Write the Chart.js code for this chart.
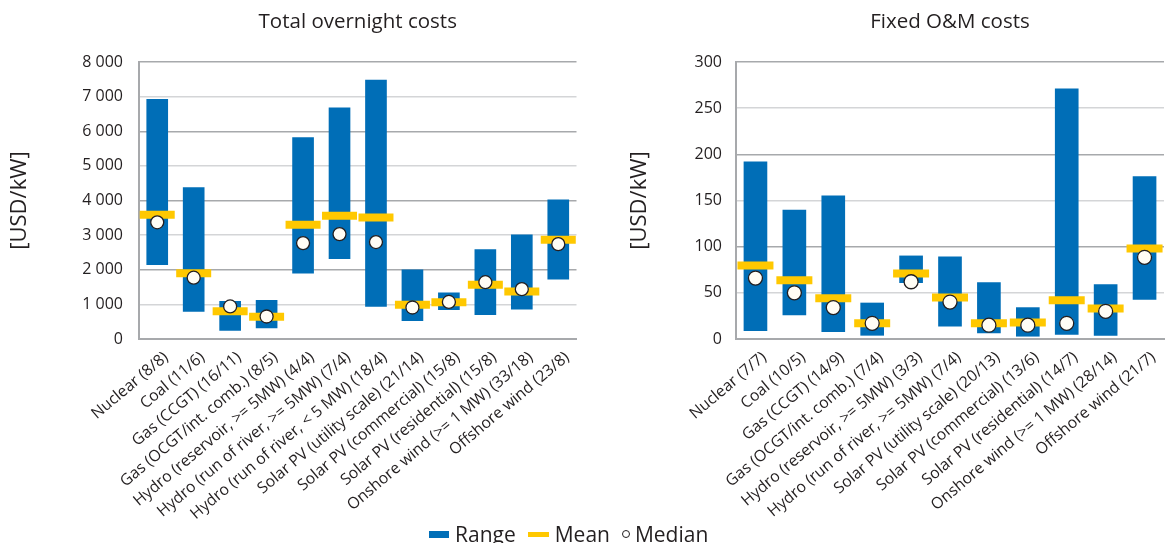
<!DOCTYPE html>
<html>
<head>
<meta charset="utf-8">
<script src="https://cdn.jsdelivr.net/npm/chart.js@4"></script>
<style>
  body { margin: 0; background: #fff; font-family: "Open Sans", sans-serif; color: #231f20; }
  #wrap { position: relative; width: 1172px; height: 543px; overflow: hidden; }
  #left { position: absolute; left: 0; top: 0; }
  #right { position: absolute; left: 600px; top: 0; }
  #legend { position: absolute; left: 429px; top: 520px; font-size: 21px; line-height: 25px; white-space: nowrap; }
  #legend span { display: inline-block; vertical-align: middle; }
  .sw-range { width: 20px; height: 7px; background: #006eb7; margin-right: 6px; }
  .sw-mean { width: 21px; height: 5px; background: #ffc800; margin: 0 6px 0 12px; }
  .sw-median { width: 6px; height: 6px; border: 1px solid #231f20; border-radius: 50%; margin: 0 5px 0 12px; }
</style>
</head>
<body>
<div id="wrap">
  <canvas id="left" width="602" height="543"></canvas>
  <canvas id="right" width="590" height="543"></canvas>
  <div id="legend"><span class="sw-range"></span><span>Range</span><span class="sw-mean"></span><span>Mean</span><span class="sw-median"></span><span>Median</span></div>
</div>
<script>
// Total overnight costs [USD/kW]
const capexCategories = [
  "Nuclear (8/8)", "Coal (11/6)", "Gas (CCGT) (16/11)", "Gas (OCGT/int. comb.) (8/5)",
  "Hydro (reservoir, >= 5MW) (4/4)", "Hydro (run of river, >= 5MW) (7/4)",
  "Hydro (run of river, < 5 MW) (18/4)", "Solar PV (utility scale) (21/14)",
  "Solar PV (commercial) (15/8)", "Solar PV (residential) (15/8)",
  "Onshore wind (>= 1 MW) (33/18)", "Offshore wind (23/8)"
];
const capexLow = [2150, 800, 250, 320, 1900, 2320, 940, 530, 845, 700, 865, 1730];
const capexHigh = [6920, 4370, 1090, 1120, 5820, 6680, 7480, 2000, 1330, 2580, 3010, 4020];
const capexMean = [3590, 1900, 800, 640, 3300, 3560, 3510, 990, 1060, 1570, 1370, 2870];
const capexMedian = [3370, 1770, 940, 650, 2770, 3030, 2800, 910, 1070, 1640, 1440, 2740];

// Fixed O&M costs [USD/kW]
const omCategories = [
  "Nuclear (7/7)", "Coal (10/5)", "Gas (CCGT) (14/9)", "Gas (OCGT/int. comb.) (7/4)",
  "Hydro (reservoir, >= 5MW) (3/3)", "Hydro (run of river, >= 5MW) (7/4)",
  "Solar PV (utility scale) (20/13)", "Solar PV (commercial) (13/6)",
  "Solar PV (residential) (14/7)", "Onshore wind (>= 1 MW) (28/14)", "Offshore wind (21/7)"
];
const omLow = [9, 26, 8, 4, 61, 14, 6.5, 3, 5, 4, 43];
const omHigh = [192, 139.5, 155, 39, 90, 89, 61, 34, 271, 59, 176];
const omMean = [79.5, 63.5, 44, 17, 71, 45, 17, 18, 42, 33, 98];
const omMedian = [66, 50, 34, 17, 62, 40, 15, 15, 17, 30, 88.5];

const BLUE = "#006eb7";
const YELLOW = "#ffc800";
const TEXT = "#231f20";
const FONT = "'Open Sans', sans-serif";

// title centred over the plot area instead of the whole canvas
const areaTitle = {
  id: "areaTitle",
  afterDraw(chart, args, opts) {
    const { ctx, chartArea } = chart;
    ctx.save();
    ctx.font = "20.5px " + FONT;
    ctx.fillStyle = TEXT;
    ctx.textAlign = "center";
    ctx.textBaseline = "alphabetic";
    ctx.fillText(opts.text, (chartArea.left + chartArea.right) / 2, 28);
    ctx.restore();
  }
};

function makeChart(id, o) {
  return new Chart(document.getElementById(id), {
    type: "bar",
    data: {
      labels: o.labels,
      datasets: [
        {
          type: "line",
          label: "Median",
          data: o.median,
          showLine: false,
          pointStyle: "circle",
          pointRadius: o.dot,
          pointBackgroundColor: "#fffdf5",
          pointBorderColor: TEXT,
          pointBorderWidth: 1.3,
          order: 1
        },
        {
          type: "line",
          label: "Mean",
          data: o.mean,
          showLine: false,
          pointStyle: "line",
          pointRadius: o.dash,
          pointBorderColor: YELLOW,
          pointBorderWidth: 8,
          order: 2
        },
        {
          label: "Range",
          data: o.low.map((v, i) => [v, o.high[i]]),
          backgroundColor: BLUE,
          barThickness: o.bar,
          order: 3
        }
      ]
    },
    plugins: [areaTitle],
    options: {
      responsive: false,
      animation: false,
      events: [],
      layout: { padding: { top: 62, left: 0, right: 0, bottom: 0 } },
      plugins: {
        legend: { display: false },
        tooltip: { enabled: false },
        areaTitle: { text: o.title }
      },
      scales: {
        x: {
          grid: { display: false, drawTicks: false },
          border: { display: true, color: "#a7a9ac", width: 2 },
          ticks: {
            autoSkip: false,
            maxRotation: 40,
            minRotation: 40,
            padding: 9,
            labelOffset: 9,
            color: TEXT,
            font: { family: FONT, size: 15.8 }
          },
          afterFit: s => { s.height = 204; }
        },
        y: {
          min: 0,
          max: o.max,
          ticks: {
            stepSize: o.step,
            padding: o.tickPad,
            color: TEXT,
            font: { family: FONT, size: 16 },
            callback: v => v >= 1000 ? Math.floor(v / 1000) + " " + String(v % 1000).padStart(3, "0") : String(v)
          },
          grid: {
            drawTicks: false,
            color: c => (c.tick.value / o.step) % 2 === 0 ? "#a7a9ac" : "#d4d5d7",
            lineWidth: 1.5
          },
          border: { display: true, color: "#a7a9ac", width: 2 },
          title: {
            display: true,
            text: "[USD/kW]",
            color: TEXT,
            font: { family: FONT, size: 22 },
            padding: { top: o.titlePad, bottom: 0 }
          },
          afterFit: s => { s.width = o.axisW; }
        }
      }
    }
  });
}

makeChart("left", {
  title: "Total overnight costs",
  labels: capexCategories, low: capexLow, high: capexHigh, mean: capexMean, median: capexMedian,
  max: 8000, step: 1000, axisW: 139, tickPad: 16, titlePad: 7, bar: 21, dash: 17.5, dot: 6.5
});

makeChart("right", {
  title: "Fixed O&M costs",
  labels: omCategories, low: omLow, high: omHigh, mean: omMean, median: omMedian,
  max: 300, step: 50, axisW: 136, tickPad: 14, titlePad: 27, bar: 23, dash: 18, dot: 7
});
</script>
</body>
</html>
